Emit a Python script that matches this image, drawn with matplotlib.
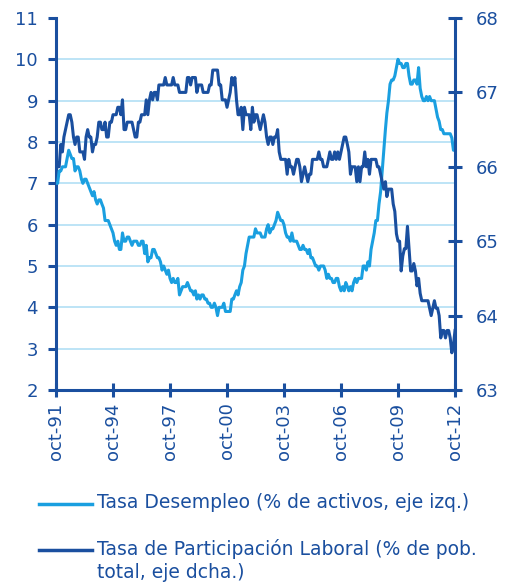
import matplotlib

matplotlib.use("Agg")
import pandas as pd
from matplotlib import pyplot as plt
from matplotlib.lines import Line2D

# Monthly data, Oct-1991 .. Oct-2012
unemployment = [
    7.0, 7.0, 7.3,
    7.3, 7.4, 7.4, 7.4, 7.6, 7.8, 7.7, 7.6, 7.6, 7.3, 7.4, 7.4,
    7.3, 7.1, 7.0, 7.1, 7.1, 7.0, 6.9, 6.8, 6.7, 6.8, 6.6, 6.5,
    6.6, 6.6, 6.5, 6.4, 6.1, 6.1, 6.1, 6.0, 5.9, 5.8, 5.6, 5.5,
    5.6, 5.4, 5.4, 5.8, 5.6, 5.6, 5.7, 5.7, 5.6, 5.5, 5.6, 5.6,
    5.6, 5.5, 5.5, 5.6, 5.6, 5.3, 5.5, 5.1, 5.2, 5.2, 5.4, 5.4,
    5.3, 5.2, 5.2, 5.1, 4.9, 5.0, 4.9, 4.8, 4.9, 4.7, 4.6, 4.7,
    4.6, 4.6, 4.7, 4.3, 4.4, 4.5, 4.5, 4.5, 4.6, 4.5, 4.4, 4.4,
    4.3, 4.4, 4.2, 4.3, 4.2, 4.3, 4.3, 4.2, 4.2, 4.1, 4.1, 4.0,
    4.0, 4.1, 4.0, 3.8, 4.0, 4.0, 4.0, 4.1, 3.9, 3.9, 3.9, 3.9,
    4.2, 4.2, 4.3, 4.4, 4.3, 4.5, 4.6, 4.9, 5.0, 5.3, 5.5, 5.7,
    5.7, 5.7, 5.7, 5.9, 5.8, 5.8, 5.8, 5.7, 5.7, 5.7, 5.9, 6.0,
    5.8, 5.9, 5.9, 6.0, 6.1, 6.3, 6.2, 6.1, 6.1, 6.0, 5.8, 5.7,
    5.7, 5.6, 5.8, 5.6, 5.6, 5.6, 5.5, 5.4, 5.4, 5.5, 5.4, 5.4,
    5.3, 5.4, 5.2, 5.2, 5.1, 5.0, 5.0, 4.9, 5.0, 5.0, 5.0, 4.9,
    4.7, 4.8, 4.7, 4.7, 4.6, 4.6, 4.7, 4.7, 4.5, 4.4, 4.5, 4.4,
    4.6, 4.5, 4.4, 4.5, 4.4, 4.6, 4.7, 4.6, 4.7, 4.7, 4.7, 5.0,
    5.0, 4.9, 5.1, 5.0, 5.4, 5.6, 5.8, 6.1, 6.1, 6.5, 6.8, 7.3,
    7.8, 8.3, 8.7, 9.0, 9.4, 9.5, 9.5, 9.6, 9.8, 10.0, 9.9, 9.9,
    9.8, 9.8, 9.9, 9.9, 9.6, 9.4, 9.4, 9.5, 9.5, 9.4, 9.8, 9.3,
    9.1, 9.0, 9.0, 9.1, 9.0, 9.1, 9.0, 9.0, 9.0, 8.8, 8.6, 8.5,
    8.3, 8.3, 8.2, 8.2, 8.2, 8.2, 8.2, 8.1, 7.8, 7.8,
]
participation = [
    66.1, 66.0, 66.0,
    66.3, 66.2, 66.4, 66.5, 66.6, 66.7, 66.7, 66.6, 66.4, 66.3, 66.4, 66.4,
    66.2, 66.2, 66.2, 66.1, 66.4, 66.5, 66.4, 66.4, 66.2, 66.3, 66.3, 66.4,
    66.6, 66.6, 66.5, 66.5, 66.6, 66.4, 66.4, 66.6, 66.6, 66.7, 66.7, 66.7,
    66.8, 66.8, 66.7, 66.9, 66.5, 66.5, 66.6, 66.6, 66.6, 66.6, 66.5, 66.4,
    66.4, 66.6, 66.6, 66.7, 66.7, 66.7, 66.9, 66.7, 66.9, 67.0, 66.9, 67.0,
    67.0, 66.9, 67.1, 67.1, 67.1, 67.1, 67.2, 67.1, 67.1, 67.1, 67.1, 67.2,
    67.1, 67.1, 67.1, 67.0, 67.0, 67.0, 67.0, 67.0, 67.2, 67.2, 67.1, 67.2,
    67.2, 67.2, 67.0, 67.1, 67.1, 67.1, 67.0, 67.0, 67.0, 67.0, 67.1, 67.1,
    67.3, 67.3, 67.3, 67.3, 67.1, 67.1, 66.9, 66.9, 66.9, 66.8, 66.9, 67.0,
    67.2, 67.1, 67.2, 66.9, 66.7, 66.7, 66.8, 66.5, 66.8, 66.7, 66.7, 66.7,
    66.5, 66.8, 66.6, 66.7, 66.7, 66.6, 66.5, 66.6, 66.7, 66.6, 66.4, 66.3,
    66.4, 66.4, 66.3, 66.4, 66.4, 66.5, 66.2, 66.1, 66.1, 66.1, 66.1, 65.9,
    66.1, 66.0, 66.0, 65.9, 66.0, 66.1, 66.1, 66.0, 65.8, 65.9, 66.0, 65.9,
    65.8, 65.9, 65.9, 66.1, 66.1, 66.1, 66.1, 66.2, 66.1, 66.1, 66.0, 66.0,
    66.0, 66.1, 66.2, 66.1, 66.1, 66.2, 66.1, 66.2, 66.1, 66.2, 66.3, 66.4,
    66.4, 66.3, 66.2, 65.9, 66.0, 66.0, 66.0, 65.8, 66.0, 65.8, 66.0, 66.0,
    66.2, 66.0, 66.1, 65.9, 66.1, 66.1, 66.1, 66.1, 66.0, 66.0, 65.9, 65.8,
    65.7, 65.8, 65.6, 65.7, 65.7, 65.7, 65.5, 65.4, 65.1, 65.0, 65.0, 64.6,
    64.8, 64.9, 64.9, 65.2, 64.9, 64.6, 64.6, 64.7, 64.6, 64.4, 64.5, 64.3,
    64.2, 64.2, 64.2, 64.2, 64.2, 64.1, 64.0, 64.1, 64.2, 64.1, 64.1, 64.0,
    63.7, 63.8, 63.8, 63.7, 63.8, 63.8, 63.7, 63.5, 63.6, 63.8,
]
tick_years = [1991, 1994, 1997, 2000, 2003, 2006, 2009, 2012]
tick_labels = [f"oct-{year % 100:02d}" for year in tick_years]
legend_labels = [
    "Tasa Desempleo (% de activos, eje izq.)",
    "Tasa de Participación Laboral (% de pob.\ntotal, eje dcha.)",
]

LIGHT = "#1a9fe0"
DARK = "#1a4f9f"
GRID = "#b8e2f6"

plt.rcParams["font.family"] = ["DejaVu Sans"]

dates = pd.date_range("1991-10-01", periods=len(unemployment), freq="MS")

figure = plt.figure(figsize=(5.05, 5.83), dpi=100)
axis = figure.add_axes([56 / 505, 1 - 390 / 583, 399 / 505, 372 / 583])
right = axis.twinx()

for value in range(3, 11):
    axis.axhline(value, color=GRID, linewidth=1.3, zorder=0)

axis.plot(dates, unemployment, color=LIGHT, linewidth=2.2, zorder=3)
right.plot(dates, participation, color=DARK, linewidth=2.2, zorder=3)

axis.set_ylim(2, 11)
axis.set_yticks(range(2, 12))
right.set_ylim(63, 68)
right.set_yticks(range(63, 69))
axis.set_xlim(dates[0], dates[-1])
axis.set_xticks([pd.Timestamp(f"{year}-10-01") for year in tick_years])
axis.set_xticklabels(tick_labels, rotation=90)

for ax in (axis, right):
    ax.spines["top"].set_visible(False)
    for side in ("left", "right", "bottom"):
        ax.spines[side].set_color(DARK)
        ax.spines[side].set_linewidth(2.2)
    ax.tick_params(colors=DARK, labelcolor=DARK, labelsize=13, width=2.2, length=7)
axis.spines["right"].set_visible(False)
right.spines["left"].set_visible(False)
right.spines["bottom"].set_visible(False)
axis.tick_params(axis="y", direction="out", length=6, pad=7)
axis.tick_params(axis="x", direction="inout", length=10, pad=4)
right.tick_params(axis="y", direction="inout", length=10, pad=10)

entries = [(LIGHT, 504), (DARK, 550)]
for (color, y_pixel), label in zip(entries, legend_labels):
    y = 1 - y_pixel / 583
    figure.add_artist(
        Line2D([39 / 505, 92 / 505], [y, y], color=color, linewidth=2.5,
               transform=figure.transFigure)
    )
    figure.text(97 / 505, y + 11 / 583, label, color=DARK, fontsize=13.5,
                va="top", ha="left", linespacing=1.25)

figure.savefig("out.png", dpi=100)
